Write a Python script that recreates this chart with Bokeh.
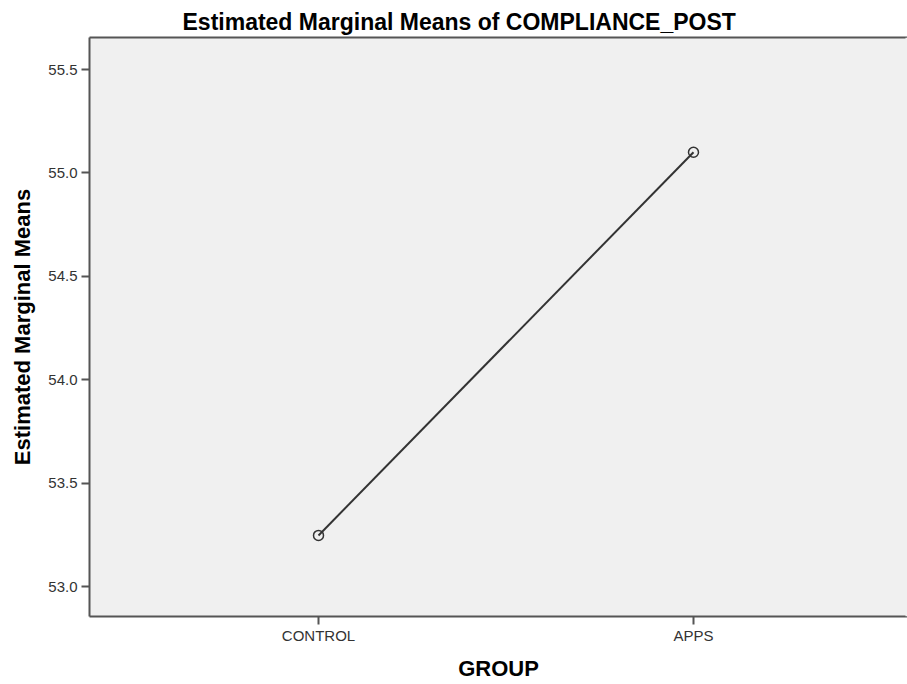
from bokeh.plotting import figure
from bokeh.models import Range1d, FixedTicker, LinearAxis, ColumnDataSource, Span
from bokeh.embed import file_html
from bokeh.resources import INLINE

groups = ["CONTROL", "APPS"]
means = [53.247, 55.10]
y_ticks = [53.0, 53.5, 54.0, 54.5, 55.0, 55.5]

xs = list(range(len(groups)))
src = ColumnDataSource(dict(x=xs, y=means))

FONT = "Liberation Sans"
AX = "#555555"
X_END = 1.5707

p = figure(width=907, height=684, output_backend="svg", toolbar_location=None,
           x_range=Range1d(-0.6107, X_END), y_range=Range1d(52.855, 55.655),
           min_border_left=89, min_border_right=0, min_border_top=37, min_border_bottom=68,
           x_axis_location="below", y_axis_location="left")

p.background_fill_color = "#f0f0f0"
p.border_fill_color = "white"
p.outline_line_color = None
p.grid.visible = False

p.title.text = "Estimated Marginal Means of COMPLIANCE_POST"
p.title.text_font = FONT
p.title.text_font_size = "23px"
p.title.text_font_style = "bold"
p.title.text_color = "black"
p.title.align = "left"
p.title.offset = 93
p.title.standoff = 6

xa = p.below[0]
ya = p.left[0]
xa.ticker = FixedTicker(ticks=xs)
xa.major_label_overrides = {i: g for i, g in enumerate(groups)}
ya.ticker = FixedTicker(ticks=y_ticks)
ya.major_label_overrides = {t: f"{t:.1f}" for t in y_ticks}

for ax in (xa, ya):
    ax.axis_line_color = AX
    ax.axis_line_width = 2
    ax.major_tick_line_color = AX
    ax.major_tick_line_width = 2
    ax.major_tick_out = 8
    ax.major_tick_in = 0
    ax.minor_tick_line_color = None
    ax.major_label_text_font = FONT
    ax.major_label_text_font_size = "15px"
    ax.major_label_text_color = "#333333"
    ax.axis_label_text_font = FONT
    ax.axis_label_text_font_size = "22px"
    ax.axis_label_text_font_style = "bold"
    ax.axis_label_text_color = "black"

xa.axis_label = "GROUP"
xa.major_label_standoff = 2
xa.axis_label_standoff = 9
ya.axis_label = "Estimated Marginal Means"
ya.major_label_standoff = 4
ya.axis_label_standoff = 10

# top frame line
top = LinearAxis(ticker=FixedTicker(ticks=[]), major_tick_line_color=None,
                 minor_tick_line_color=None, major_label_text_font_size="0px",
                 axis_line_color=AX, axis_line_width=2)
p.add_layout(top, "above")

# keep the open right side of the frame seamless
p.add_layout(Span(location=X_END, dimension="height", line_color="#f0f0f0", line_width=4))

p.line("x", "y", source=src, line_color="#333333", line_width=2)
p.scatter("x", "y", source=src, size=10, fill_color=None, line_color="#333333", line_width=1.5)

open("out.html", "w").write(file_html(p, INLINE))
